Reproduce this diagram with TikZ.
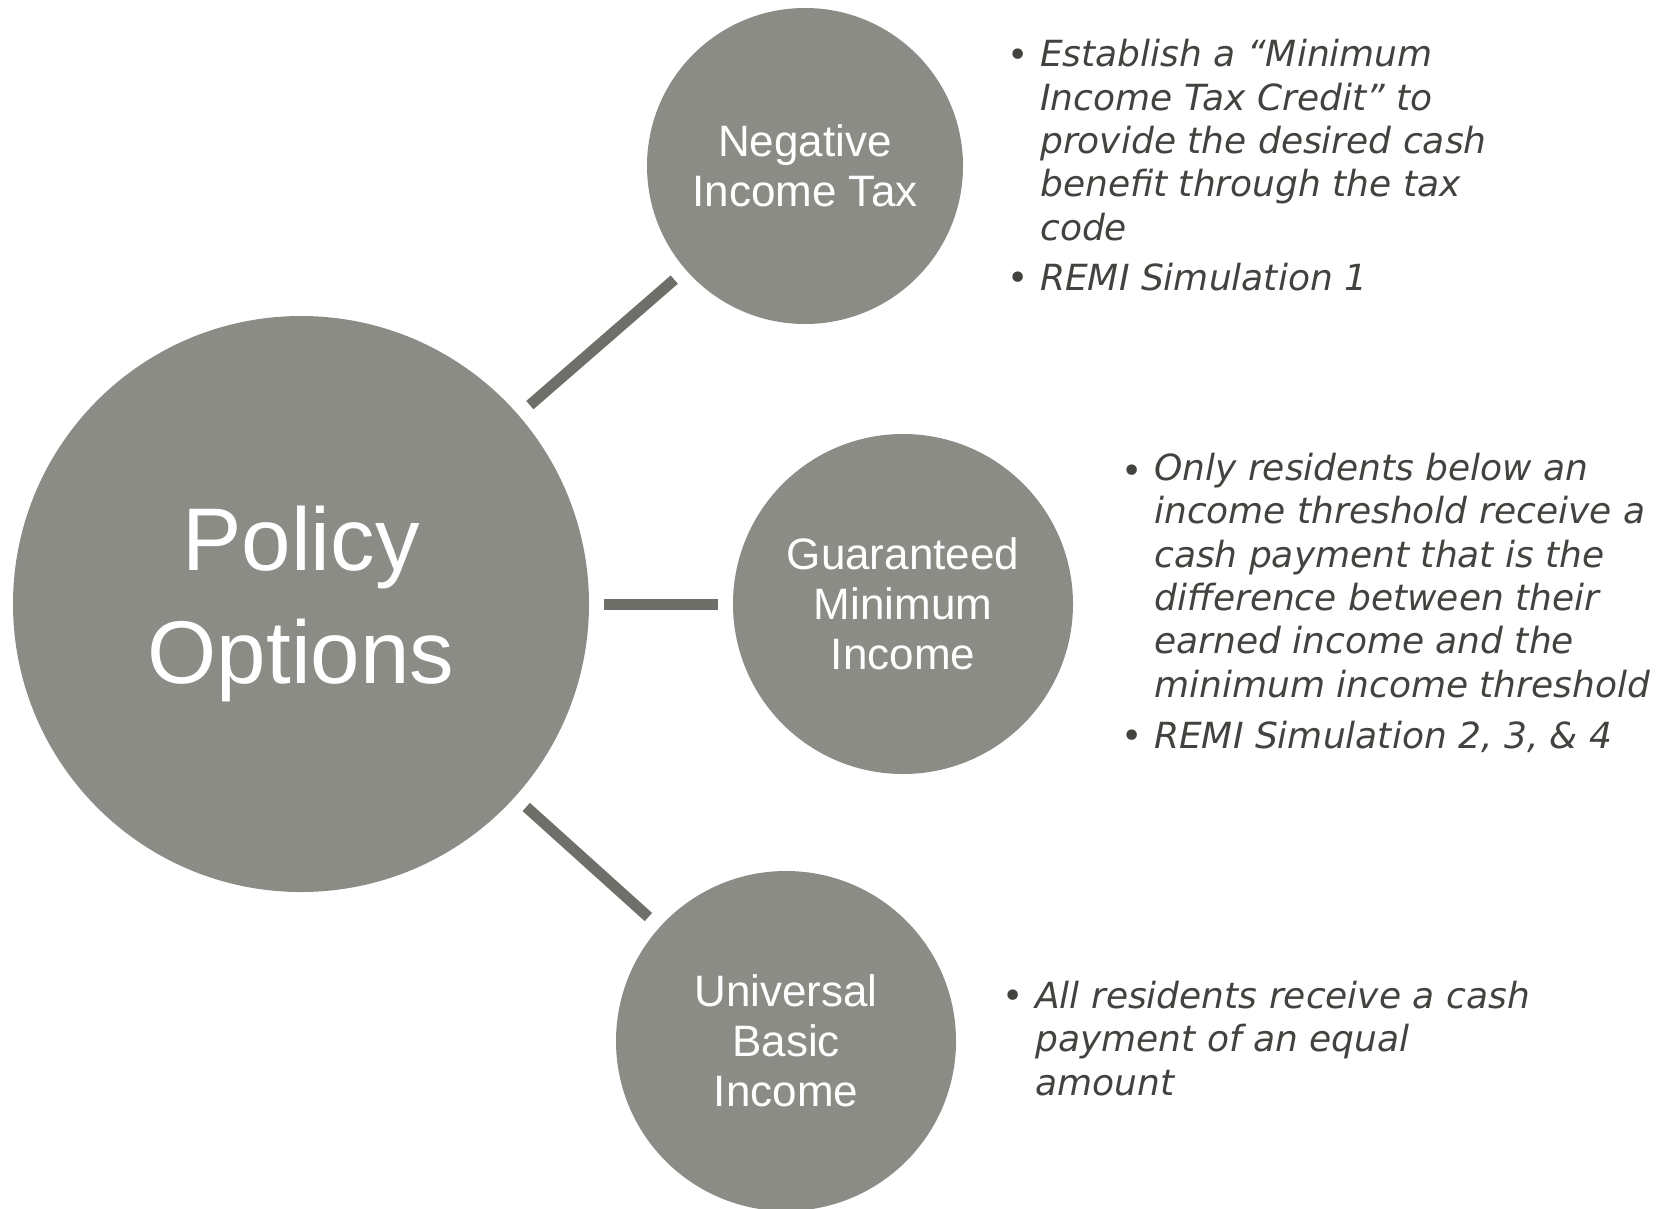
\documentclass[tikz,border=0pt]{standalone}
\usepackage{fontspec}
\setmainfont{Liberation Sans}
\newfontfamily\notefont{DejaVu Sans}
\definecolor{bubble}{HTML}{8B8C86}
\definecolor{spoke}{HTML}{6E6F69}
\definecolor{note}{HTML}{42433E}

\begin{document}
\begin{tikzpicture}[x=1pt, y=-1pt,
  bubble/.style={circle, fill=bubble, text=white, inner sep=0pt, align=center},
  spoke/.style={draw=spoke, line width=11pt, shorten <=15pt, shorten >=15pt},
  note/.style={anchor=base west, align=left, text=note, inner sep=0pt,
    font=\notefont\itshape\fontsize{36}{43.3}\selectfont},
  dot/.style={anchor=base, text=note, inner sep=0pt,
    font=\notefont\fontsize{36}{43.3}\selectfont}]

\useasboundingbox (0,0) rectangle (1661,1208);

\node [bubble, minimum size=576pt, font=\fontsize{89}{113}\selectfont] (PO) at (301, 604) {Policy\\Options};
\node [bubble, minimum size=316pt, font=\fontsize{44}{50}\selectfont] (NIT) at (805, 166) {Negative\\Income Tax};
\node [bubble, minimum size=340pt, font=\fontsize{44}{50}\selectfont] (GMI) at (903, 604) {Guaranteed\\Minimum\\Income};
\node [bubble, minimum size=340pt, font=\fontsize{44}{50}\selectfont] (UBI) at (786, 1041) {Universal\\Basic\\Income};

\draw[spoke] (PO) -- (NIT);
\draw[spoke] (PO) -- (GMI);
\draw[spoke] (PO) -- (UBI);

% base anchor sits on the last line
\node [dot] (nitAdot) at (1018, 67) {•};
\node [note] (nitA) at (1040, 240) {Establish a “Minimum\\Income Tax Credit” to\\provide the desired cash\\benefit through the tax\\code};
\node [dot] (nitBdot) at (1018, 290) {•};
\node [note] (nitB) at (1040, 290) {REMI Simulation 1};

\node [dot] (gmiAdot) at (1132, 483) {•};
\node [note] (gmiA) at (1154, 697) {Only residents below an\\income threshold receive a\\cash payment that is the\\difference between their\\earned income and the\\minimum income threshold};
\node [dot] (gmiBdot) at (1132, 748) {•};
\node [note] (gmiB) at (1154, 748) {REMI Simulation 2, 3, \& 4};

\node [dot] (ubiAdot) at (1013, 1008) {•};
\node [note] (ubiA) at (1035, 1095) {All residents receive a cash\\payment of an equal\\amount};

\end{tikzpicture}
\end{document}
